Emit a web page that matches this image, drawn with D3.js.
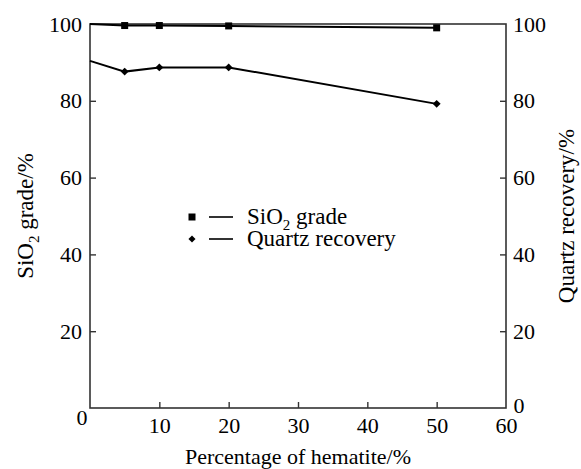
<!DOCTYPE html>
<html>
<head>
<meta charset="utf-8">
<script src="https://cdn.jsdelivr.net/npm/d3@7"></script>
<style>
  body { margin: 0; background: #fff; }
  text { font-family: "Liberation Serif", "Times New Roman", serif; fill: #000; }
</style>
</head>
<body>
<div id="chart"></div>
<script>
const hematite = [0, 5, 10, 20, 50];
const sio2Grade = [100, 99.6, 99.6, 99.5, 99.0];
const quartzRecovery = [90.4, 87.6, 88.7, 88.7, 79.2];
const xTicks = [10, 20, 30, 40, 50, 60];
const yTicks = [20, 40, 60, 80, 100];

const width = 581, height = 469;
const margin = { top: 24, right: 75, bottom: 61, left: 90 };
const innerW = width - margin.left - margin.right,
      innerH = height - margin.top - margin.bottom;

const svg = d3.select("#chart")
    .append("svg")
    .attr("width", width)
    .attr("height", height);

const g = svg.append("g")
    .attr("transform", `translate(${margin.left},${margin.top})`);

const x = d3.scaleLinear().domain([0, 60]).range([0, innerW]);
const y = d3.scaleLinear().domain([0, 100]).range([innerH, 0]);

// frame
g.append("rect")
    .attr("width", innerW)
    .attr("height", innerH)
    .attr("fill", "none")
    .attr("stroke", "#333")
    .attr("stroke-width", 1.6);

// axes, ticks point inward
const styleAxis = sel => {
    sel.select(".domain").remove();
    sel.selectAll(".tick line").attr("stroke", "#333").attr("stroke-width", 1.4);
    sel.selectAll(".tick text")
        .style("font-family", "Liberation Serif")
        .style("font-size", "22px")
        .attr("fill", "#000");
};

g.append("g")
    .attr("transform", `translate(0,${innerH})`)
    .call(d3.axisBottom(x).tickValues(xTicks).tickSizeInner(-6).tickSizeOuter(0).tickPadding(9))
    .call(styleAxis)
    .call(sel => sel.selectAll(".tick").filter(d => d === 60).select("line").remove());

g.append("g")
    .call(d3.axisLeft(y).tickValues(yTicks).tickSizeInner(-6).tickSizeOuter(0).tickPadding(8))
    .call(styleAxis)
    .call(sel => sel.selectAll(".tick").filter(d => d === 100).select("line").remove());

g.append("g")
    .attr("transform", `translate(${innerW},0)`)
    .call(d3.axisRight(y).tickValues(yTicks).tickSizeInner(-6).tickSizeOuter(0).tickPadding(7))
    .call(styleAxis)
    .call(sel => sel.selectAll(".tick").filter(d => d === 100).select("line").remove());

// the two zero labels sit off the corners
g.append("text")
    .attr("x", x(0) - 8)
    .attr("y", innerH + 17)
    .attr("text-anchor", "middle")
    .style("font-size", "22px")
    .text("0");
g.append("text")
    .attr("x", innerW + 13)
    .attr("y", innerH + 5)
    .attr("text-anchor", "middle")
    .style("font-size", "22px")
    .text("0");

// series
const sio2 = hematite.map((h, i) => ({ x: h, y: sio2Grade[i] }));
const quartz = hematite.map((h, i) => ({ x: h, y: quartzRecovery[i] }));

const line = d3.line().x(d => x(d.x)).y(d => y(d.y));

[sio2, quartz].forEach(series => {
    g.append("path")
        .datum(series)
        .attr("fill", "none")
        .attr("stroke", "#000")
        .attr("stroke-width", 2)
        .attr("d", line);
});

g.selectAll(".sq")
    .data(sio2.slice(1))
    .enter()
    .append("rect")
    .attr("x", d => x(d.x) - 3.5)
    .attr("y", d => y(d.y) - 3.5)
    .attr("width", 7)
    .attr("height", 7)
    .attr("fill", "#000");

const diamond = d3.symbol().type(d3.symbolDiamond2).size(40);
g.selectAll(".dm")
    .data(quartz.slice(1))
    .enter()
    .append("path")
    .attr("transform", d => `translate(${x(d.x)},${y(d.y)})`)
    .attr("d", diamond)
    .attr("fill", "#000");

// legend
const legend = svg.append("g").attr("transform", "translate(192,0)");
legend.append("rect")
    .attr("x", -3.5).attr("y", 213.5).attr("width", 7).attr("height", 7).attr("fill", "#000");
legend.append("path")
    .attr("transform", "translate(0,239)")
    .attr("d", d3.symbol().type(d3.symbolDiamond2).size(32))
    .attr("fill", "#000");
[217, 239].forEach(ly => {
    legend.append("line")
        .attr("x1", 17).attr("x2", 41)
        .attr("y1", ly).attr("y2", ly)
        .attr("stroke", "#000").attr("stroke-width", 1.6);
});
legend.append("text")
    .attr("x", 55).attr("y", 224)
    .style("font-size", "23px")
    .html('SiO<tspan dy="6" style="font-size:15px">2</tspan><tspan dy="-6"> grade</tspan>');
legend.append("text")
    .attr("x", 55).attr("y", 246)
    .style("font-size", "23px")
    .text("Quartz recovery");

// axis titles
svg.append("text")
    .attr("x", margin.left + innerW / 2)
    .attr("y", 464)
    .attr("text-anchor", "middle")
    .style("font-size", "22px")
    .text("Percentage of hematite/%");

svg.append("text")
    .attr("transform", `translate(33,${margin.top + innerH / 2}) rotate(-90)`)
    .attr("text-anchor", "middle")
    .style("font-size", "23px")
    .html('SiO<tspan dy="6" style="font-size:15px">2</tspan><tspan dy="-6"> grade/%</tspan>');

svg.append("text")
    .attr("transform", `translate(574,${margin.top + innerH / 2}) rotate(-90)`)
    .attr("text-anchor", "middle")
    .style("font-size", "23px")
    .text("Quartz recovery/%");
</script>
</body>
</html>
